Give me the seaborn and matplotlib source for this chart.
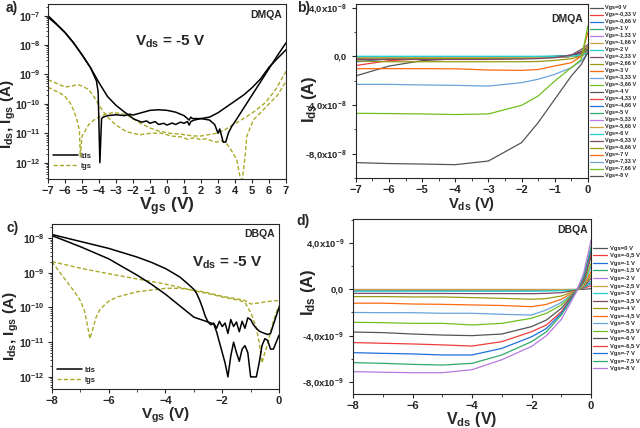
import numpy as np
import pandas as pd
import matplotlib
matplotlib.use("Agg")
import matplotlib.pyplot as plt
import seaborn as sns
from matplotlib.lines import Line2D
from matplotlib.ticker import FixedLocator, MultipleLocator, LogLocator, NullFormatter

# =========================
# data (log10 of current in A for transfer curves)
# =========================

# a) DMQA transfer, Vds = -5 V
va_ids1 = [-7, -6.5, -6, -5.5, -5, -4.5, -4.15, -4.05, -3.95, -3.85, -3.75, -3.5, -3.0, -2.5, -2.2,
           -2.0, -1.5, -1.0, -0.5, 0, 0.5, 1.0, 1.3, 1.4, 1.5, 2.0, 2.5, 2.8, 3.0, 3.1, 3.3, 3.45,
           3.6, 3.8, 4.0, 4.5, 5.0, 5.5, 6.0, 6.5, 7.0]
la_ids1 = [-7.05, -7.3, -7.58, -7.93, -8.33, -8.77, -9.22, -9.6, -12.0, -10.5, -10.45, -10.4, -10.37, -10.4, -10.35,
           -10.38, -10.3, -10.22, -10.2, -10.22, -10.28, -10.4, -10.55, -10.45, -10.5, -10.5, -10.55, -10.7, -11.0, -10.85, -11.3, -11.3,
           -11.0, -10.77, -10.6, -10.15, -9.7, -9.25, -8.8, -8.35, -7.92]
va_ids2 = [-7, -6.5, -6, -5.5, -5, -4.5, -4, -3.5, -3, -2.5, -2.2, -2, -1.8, -1.5, -1.2, -1, -0.7, -0.5,
           -0.2, 0, 0.3, 0.5, 0.8, 1, 1.2, 1.3, 1.4, 1.6, 2, 2.5, 3, 3.5, 4, 4.5, 5, 5.5, 6, 6.5, 7]
la_ids2 = [-7.0, -7.28, -7.57, -7.92, -8.33, -8.77, -9.28, -9.75, -10.05, -10.28, -10.4, -10.5, -10.55, -10.62, -10.58, -10.66, -10.6, -10.7,
           -10.66, -10.72, -10.65, -10.7, -10.62, -10.66, -10.6, -10.72, -10.6, -10.55, -10.5, -10.45, -10.3, -10.1, -9.9, -9.7, -9.45, -9.15, -8.75, -8.45, -8.16]
va_igs1 = [-7, -6.5, -6, -5.5, -5.2, -4.9, -4.6, -4.3, -4, -3.7, -3.35, -3, -2.4, -2, -1.6, -1, -0.4, 0, 0.35,
           0.8, 1.2, 1.6, 2, 2.3, 2.6, 2.9, 3.2, 3.5, 3.7, 4.1, 4.3, 4.4, 4.59, 4.69, 5.08, 5.5, 5.86, 6.5, 7.0]
la_igs1 = [-9.18, -9.3, -9.43, -9.38, -9.35, -9.42, -9.52, -9.75, -10.05, -10.3, -10.54, -10.72, -10.94, -11.0, -11.05, -11.0, -10.99, -11.05, -11.1,
           -11.12, -11.2, -11.15, -11.22, -11.18, -11.25, -11.3, -11.25, -11.35, -11.5, -11.9, -12.5, -12.7, -11.8, -11.1, -10.54, -10.3, -10.08, -9.7, -9.23]
va_igs2 = [-7, -6.6, -6.3, -6, -5.7, -5.5, -5.3, -5.15, -5.1, -5.0, -4.85, -4.6, -4.3, -3.95, -3.6, -3.2, -2.8, -2.4,
           -2, -1.6, -1, -0.4, 0.2, 0.8, 1.4, 1.9, 2.4, 2.9, 3.4, 3.9, 4.5, 5.1, 5.8, 6.4, 7.0]
la_igs2 = [-9.43, -9.55, -9.63, -9.75, -9.97, -10.2, -10.54, -10.9, -11.8, -11.1, -10.95, -10.7, -10.55, -10.43, -10.35, -10.3, -10.32, -10.37,
           -10.5, -10.65, -10.82, -10.94, -11.0, -11.03, -11.08, -11.1, -11.05, -11.0, -10.88, -10.7, -10.5, -10.27, -9.95, -9.5, -8.89]

# c) DBQA transfer, Vds = -5 V
vc_ids1 = [-8, -7, -6, -5, -4.5, -4, -3.5, -3.2, -3.0, -2.9, -2.8, -2.7, -2.6, -2.5, -2.4, -2.3, -2.2, -2.1, -2.0,
           -1.9, -1.8, -1.7, -1.6, -1.5, -1.4, -1.3, -1.2, -1.1, -1.0, -0.9, -0.8, -0.7, -0.6, -0.5, -0.4, -0.3,
           -0.2, -0.1, 0.0]
lc_ids1 = [-7.9, -8.1, -8.3, -8.55, -8.7, -8.88, -9.12, -9.33, -9.48, -9.6, -9.78, -10.0, -10.25, -10.42, -10.5, -10.45, -10.6, -10.4, -10.55,
           -10.45, -10.75, -10.35, -10.55, -10.42, -10.7, -10.4, -10.6, -10.3, -10.35, -10.5, -10.6, -10.68, -10.72, -10.75, -10.78, -10.75,
           -10.5, -10.25, -10.0]
vc_ids2 = [-8, -7, -6, -5, -4.5, -4, -3.5, -3.0, -2.5, -2.3, -2.2, -2.1, -2.0, -1.9, -1.8, -1.7, -1.6, -1.5, -1.4,
           -1.3, -1.2, -1.1, -1.0, -0.9, -0.8, -0.7, -0.6, -0.5, -0.4, -0.3, -0.2, -0.1, 0.0]
lc_ids2 = [-7.93, -8.25, -8.6, -9.07, -9.33, -9.62, -9.95, -10.28, -10.42, -10.48, -10.7, -11.0, -11.3, -11.6, -12.0, -11.4, -11.0, -11.3, -11.55,
           -11.2, -11.1, -11.3, -12.0, -12.0, -12.0, -11.6, -11.1, -10.9, -10.95, -11.2, -11.2, -11.0, -10.8]
vc_igs1 = [-8, -7, -6, -5, -4.5, -4, -3.5, -3, -2.5, -2, -1.5, -1.2, -1.0, -0.9, -0.8, -0.7, -0.6, -0.5, -0.4,
           -0.3, -0.2, -0.1, 0]
lc_igs1 = [-8.68, -8.87, -9.03, -9.18, -9.25, -9.33, -9.42, -9.52, -9.6, -9.7, -9.78, -9.85, -10.15, -10.35, -10.6, -11.0, -11.6, -11.3, -11.05,
           -10.7, -10.4, -10.15, -9.95]
vc_igs2 = [-8, -7.8, -7.5, -7.2, -7.0, -6.85, -6.75, -6.66, -6.55, -6.45, -6.3, -6.0, -5.7, -5.0, -4.5, -4.0, -3.5,
           -3.0, -2.5, -2.0, -1.5, -1.2, -1.0, -0.7, -0.4, 0]
lc_igs2 = [-8.68, -8.9, -9.23, -9.55, -9.8, -10.1, -10.5, -10.9, -10.6, -10.3, -10.05, -9.82, -9.7, -9.55, -9.5, -9.45, -9.45,
           -9.5, -9.58, -9.68, -9.75, -9.8, -9.9, -9.87, -9.83, -9.8]

# b) DMQA output curves, Ids in units of 1e-8 A
vds_b = [-7, -6, -5, -4, -3, -2, -1.5, -1, -0.5, -0.2, 0]
vgs_b = ["0", "-0,33", "-0,66", "-1", "-1.33", "-1,66", "-2", "-2,33", "-2,66", "-3", "-3,33", "-3,66",
         "-4", "-4,33", "-4,66", "-5", "-5,33", "-5,66", "-6", "-6,33", "-6,66", "-7", "-7,33", "-7,66", "-8"]
ids_b = [
    [-1.6, -0.8, -0.35, -0.2, -0.15, -0.12, -0.1, -0.05, 0.1, 0.4, 0.8],
    [-0.75, -0.35, -0.2, -0.15, -0.12, -0.1, -0.1, -0.05, 0.05, 0.3, 0.6],
    [-0.45, -0.2, -0.1, -0.06, -0.05, -0.05, -0.05, -0.02, 0.05, 0.2, 0.5],
    [-0.05, -0.05, -0.04, -0.04, -0.03, -0.03, -0.03, -0.02, 0.02, 0.15, 0.4],
    [-0.08, -0.07, -0.06, -0.05, -0.05, -0.04, -0.04, -0.03, 0.0, 0.1, 0.35],
    [-0.1, -0.08, -0.07, -0.06, -0.06, -0.05, -0.05, -0.03, 0.0, 0.1, 0.3],
    [0.0, 0.0, 0.0, 0.0, 0.0, 0.0, 0.0, 0.01, 0.05, 0.1, 0.3],
    [-0.15, -0.12, -0.1, -0.1, -0.1, -0.08, -0.05, 0.0, 0.1, 0.3, 0.6],
    [-0.25, -0.2, -0.18, -0.18, -0.17, -0.15, -0.12, -0.1, 0.0, 0.1, 0.4],
    [-0.05, -0.05, -0.05, -0.05, -0.05, -0.05, -0.04, -0.03, 0.0, 0.1, 0.3],
    [-0.04, -0.04, -0.04, -0.04, -0.04, -0.04, -0.03, -0.02, 0.0, 0.08, 0.25],
    [-0.03, -0.03, -0.03, -0.03, -0.03, -0.03, -0.03, -0.02, 0.0, 0.1, 0.3],
    [-0.06, -0.06, -0.06, -0.06, -0.06, -0.05, -0.05, -0.04, 0.0, 0.1, 0.3],
    [-0.05, -0.05, -0.05, -0.05, -0.05, -0.05, -0.04, -0.03, 0.0, 0.08, 0.25],
    [-0.07, -0.07, -0.07, -0.07, -0.07, -0.06, -0.05, -0.04, 0.0, 0.1, 0.3],
    [-0.02, -0.02, -0.02, -0.02, -0.02, -0.02, -0.02, -0.01, 0.02, 0.1, 0.3],
    [-0.08, -0.08, -0.08, -0.08, -0.08, -0.07, -0.06, -0.05, 0.0, 0.1, 0.35],
    [-0.1, -0.1, -0.1, -0.1, -0.1, -0.09, -0.08, -0.06, 0.0, 0.1, 0.35],
    [-0.01, -0.01, -0.01, -0.01, -0.01, -0.01, -0.01, 0.0, 0.03, 0.1, 0.3],
    [-0.27, -0.25, -0.25, -0.25, -0.25, -0.22, -0.18, -0.1, 0.1, 0.57, 0.97],
    [-0.38, -0.44, -0.44, -0.44, -0.44, -0.44, -0.42, -0.33, -0.19, 0.0, 0.85],
    [-1.01, -1.01, -1.01, -1.02, -1.12, -1.15, -1.08, -0.79, -0.52, 0.0, 1.95],
    [-2.3, -2.3, -2.35, -2.38, -2.44, -2.16, -1.88, -1.48, -0.93, -0.38, 0.3],
    [-4.68, -4.7, -4.73, -4.78, -4.73, -4.02, -3.26, -2.03, -0.93, -0.25, 2.49],
    [-8.73, -8.81, -8.85, -8.9, -8.6, -7.09, -5.45, -3.53, -1.62, -0.66, 0.3],
]

# d) DBQA output curves, Ids in units of 1e-9 A
vds_d = [-8, -7, -6, -5, -4, -3, -2, -1.5, -1, -0.5, -0.25, 0]
vgs_d = ["0", "-0,5", "-1", "-1,5", "-2", "-2,5", "-3", "-3,5", "-4", "-4,5", "-5", "-5,5",
         "-6", "-6,5", "-7", "-7,5", "-8"]
ids_d = [
    [-0.02, -0.02, -0.02, -0.02, -0.02, -0.02, -0.02, -0.02, -0.02, -0.02, 0.0, 0.05],
    [-0.03, -0.03, -0.03, -0.03, -0.03, -0.03, -0.03, -0.03, -0.03, -0.02, 0.1, 0.3],
    [-0.04, -0.04, -0.04, -0.04, -0.04, -0.04, -0.04, -0.04, -0.04, -0.03, 0.15, 0.5],
    [-0.05, -0.05, -0.05, -0.05, -0.05, -0.05, -0.05, -0.05, -0.05, -0.03, 0.2, 0.6],
    [-0.05, -0.05, -0.05, -0.05, -0.05, -0.05, -0.05, -0.05, -0.05, -0.03, 0.2, 0.7],
    [-0.03, -0.03, -0.03, -0.03, -0.03, -0.03, -0.03, -0.03, -0.03, -0.02, 0.2, 0.6],
    [-0.17, -0.17, -0.17, -0.17, -0.17, -0.17, -0.17, -0.15, -0.12, -0.05, 0.15, 0.66],
    [-0.35, -0.35, -0.36, -0.36, -0.37, -0.37, -0.38, -0.35, -0.29, -0.08, 0.2, 0.95],
    [-0.63, -0.63, -0.66, -0.66, -0.72, -0.78, -0.86, -0.8, -0.58, -0.1, 0.23, 1.24],
    [-1.2, -1.2, -1.27, -1.3, -1.35, -1.4, -1.5, -1.3, -0.86, -0.12, 0.29, 1.53],
    [-2.0, -2.02, -2.02, -2.07, -2.07, -2.16, -2.22, -1.78, -1.15, -0.13, 0.37, 1.97],
    [-2.85, -2.88, -2.94, -2.94, -3.08, -2.94, -2.5, -2.07, -1.35, -0.14, 0.52, 2.25],
    [-3.69, -3.74, -3.86, -3.95, -4.0, -3.86, -3.22, -2.65, -1.64, -0.15, 0.66, 2.82],
    [-4.6, -4.66, -4.72, -4.8, -4.9, -4.52, -3.66, -3.08, -1.93, -0.16, 0.8, 3.1],
    [-5.47, -5.53, -5.58, -5.67, -5.67, -5.1, -4.1, -3.38, -2.07, -0.17, 0.95, 3.4],
    [-6.33, -6.39, -6.48, -6.54, -6.39, -5.67, -4.52, -3.66, -2.22, -0.2, 1.1, 3.68],
    [-7.11, -7.16, -7.2, -7.2, -6.94, -6.08, -4.93, -4.0, -2.6, -0.25, 1.38, 4.26],
]

# Origin-like line colour cycle
line_colors = ["#545454", "#f03c3c", "#1f6fdc", "#30a86a", "#b57ae0", "#d0a040",
               "#20cfcf", "#7a4a66", "#999910", "#fb6a10", "#6aa4dc", "#70c020"]
olive = "#aaaa2a"

# =========================
# style
# =========================
sns.set_style("ticks")
plt.rcParams["font.family"] = ["Liberation Sans", "DejaVu Sans"]
plt.rcParams["font.weight"] = "bold"
plt.rcParams["axes.labelweight"] = "bold"
plt.rcParams["mathtext.fontset"] = "custom"
plt.rcParams["mathtext.rm"] = "Liberation Sans:bold"
plt.rcParams["mathtext.it"] = "Liberation Sans:bold"
plt.rcParams["mathtext.bf"] = "Liberation Sans:bold"
plt.rcParams["axes.linewidth"] = 0.8
plt.rcParams["xtick.major.size"] = 3
plt.rcParams["ytick.major.size"] = 3
plt.rcParams["xtick.minor.size"] = 1.8
plt.rcParams["ytick.minor.size"] = 1.8

fig = plt.figure(figsize=(6.4, 4.28), dpi=100)
ax_a = fig.add_axes([0.075, 0.582, 0.372, 0.409])
ax_b = fig.add_axes([0.556, 0.584, 0.3625, 0.4065])
ax_c = fig.add_axes([0.081, 0.091, 0.355, 0.3855])
ax_d = fig.add_axes([0.5516, 0.0794, 0.372, 0.409])

# =========================
# description: transfer curves (log scale)
# =========================

def plot_transfer(ax, ids_curves, igs_curves, xlim, ylog, xmajor, name, name_xy, vds_xy, leg_y,
                  xl_fs, yl_fs):
    ax.set_yscale("log")
    for v, lg in igs_curves:
        sns.lineplot(x=v, y=10.0 ** np.array(lg), ax=ax, color=olive, lw=1.0,
                     linestyle=(0, (3, 1.6)), estimator=None, sort=False)
    for v, lg in ids_curves:
        sns.lineplot(x=v, y=10.0 ** np.array(lg), ax=ax, color="black", lw=1.1,
                     estimator=None, sort=False)
    ax.set_xlim(*xlim)
    ax.set_ylim(10.0 ** ylog[0], 10.0 ** ylog[1])
    ax.xaxis.set_major_locator(MultipleLocator(xmajor))
    if xmajor > 1:
        ax.xaxis.set_minor_locator(MultipleLocator(1))
    ax.yaxis.set_major_locator(LogLocator(base=10, numticks=20))
    ax.yaxis.set_minor_locator(LogLocator(base=10, subs=np.arange(2, 10), numticks=20))
    ax.yaxis.set_minor_formatter(NullFormatter())
    ax.tick_params(axis="x", labelsize=8, pad=2)
    ax.tick_params(axis="y", labelsize=7.5, pad=2)
    ax.set_xlabel(r"$\mathregular{V_{gs}}$ (V)", fontsize=xl_fs)
    ax.set_ylabel(r"$\mathregular{I_{ds}}$, $\mathregular{I_{gs}}$ (A)", fontsize=yl_fs)
    ax.text(name_xy[0], name_xy[1], name, transform=ax.transAxes, ha="center", va="center",
            fontsize=7.5, fontweight="bold")
    ax.text(vds_xy[0], vds_xy[1], r"$\mathregular{V_{ds}}$ = -5 V", transform=ax.transAxes,
            ha="center", va="center", fontsize=11, fontweight="bold")
    handles = [Line2D([], [], color="black", lw=1.1),
               Line2D([], [], color=olive, lw=1.0, linestyle=(0, (3, 1.6)))]
    ax.legend(handles, ["Ids", "Igs"], loc="lower left", bbox_to_anchor=(0.0, leg_y),
              frameon=False, fontsize=5.5, handlelength=3.2, handletextpad=0.4,
              labelspacing=0.35, borderaxespad=0.3)


plot_transfer(ax_a, [(va_ids1, la_ids1), (va_ids2, la_ids2)], [(va_igs1, la_igs1), (va_igs2, la_igs2)],
              (-7, 7), (-12.55, -6.6), 1, "DMQA", (0.916, 0.937), (0.513, 0.783), 0.02, 12.5, 11)
plot_transfer(ax_c, [(vc_ids1, lc_ids1), (vc_ids2, lc_ids2)], [(vc_igs1, lc_igs1), (vc_igs2, lc_igs2)],
              (-8, 0), (-12.35, -7.6), 2, "DBQA", (0.916, 0.94), (0.771, 0.764), 0.0, 11, 11)
ax_a.xaxis.set_label_coords(0.5, -0.095)
ax_a.yaxis.set_label_coords(-0.125, 0.37)
ax_c.xaxis.set_label_coords(0.5, -0.1)
ax_c.yaxis.set_label_coords(-0.135, 0.38)

# =========================
# description: output curves (linear scale)
# =========================

def plot_output(ax, vds, vgs, ids, scale, ylim, yticks, ylabels, xlim, xmajor, name, name_xy,
                leg_fs, leg_space, xl_fs):
    rows = []
    for lbl, vals in zip(vgs, ids):
        for x, y in zip(vds, vals):
            rows.append({"Vds": x, "Ids": y * scale, "Vgs": f"Vgs={lbl} V"})
    df = pd.DataFrame(rows)
    order = [f"Vgs={lbl} V" for lbl in vgs]
    pal = [line_colors[i % len(line_colors)] for i in range(len(vgs))]
    sns.lineplot(data=df, x="Vds", y="Ids", hue="Vgs", hue_order=order, palette=pal,
                 estimator=None, sort=False, lw=0.9, ax=ax)
    ax.set_xlim(*xlim)
    ax.set_ylim(*ylim)
    ax.xaxis.set_major_locator(MultipleLocator(xmajor))
    ax.xaxis.set_minor_locator(MultipleLocator(xmajor / 2))
    ax.yaxis.set_major_locator(FixedLocator(yticks))
    ax.set_yticklabels(ylabels)
    ax.yaxis.set_minor_locator(MultipleLocator((yticks[1] - yticks[0]) / 2))
    ax.tick_params(labelsize=8)
    ax.tick_params(axis="x", pad=2)
    ax.tick_params(axis="y", labelsize=6.8)
    ax.set_xlabel(r"$\mathregular{V_{ds}}$ (V)", fontsize=xl_fs)
    ax.set_ylabel(r"$\mathregular{I_{ds}}$ (A)", fontsize=12)
    ax.text(name_xy[0], name_xy[1], name, transform=ax.transAxes, ha="center", va="center",
            fontsize=7.5, fontweight="bold")
    handles, labels = ax.get_legend_handles_labels()
    ax.legend(handles, labels, loc="upper left", bbox_to_anchor=(1.005, 0.995), frameon=False,
              fontsize=leg_fs, handlelength=2.5, handletextpad=0.35, labelspacing=leg_space,
              borderaxespad=0.0, borderpad=0.1)


plot_output(ax_b, vds_b, vgs_b, ids_b, 1e-8, (-1.0e-7, 4.3e-8), [-8e-8, -4e-8, 0, 4e-8],
            [r"-8,0x10$^{-8}$", r"-4,0x10$^{-8}$", "0,0", r"4,0x10$^{-8}$"], (-7, 0), 1,
            "DMQA", (0.909, 0.914), 4.0, 0.36, 10.5)
plot_output(ax_d, vds_d, vgs_d, ids_d, 1e-9, (-9.04e-9, 6.07e-9), [-8e-9, -4e-9, 0, 4e-9],
            [r"-8,0x10$^{-9}$", r"-4,0x10$^{-9}$", "0,0", r"4,0x10$^{-9}$"], (-8, 0), 2,
            "DBQA", (0.924, 0.937), 4.2, 0.42, 11.5)
ax_b.xaxis.set_label_coords(0.5, -0.095)
ax_b.yaxis.set_label_coords(-0.16, 0.454)
ax_d.xaxis.set_label_coords(0.5, -0.09)
ax_d.yaxis.set_label_coords(-0.147, 0.583)
ax_d.legend_.set_bbox_to_anchor((1.005, 0.85))

# panel letters
for lbl, x, y in [("a)", 0.019, 0.981), ("b)", 0.475, 0.981), ("c)", 0.02, 0.468), ("d)", 0.474, 0.484)]:
    fig.text(x, y, lbl, ha="center", va="center", fontsize=10, fontweight="bold")

fig.savefig("out.png", dpi=100)
